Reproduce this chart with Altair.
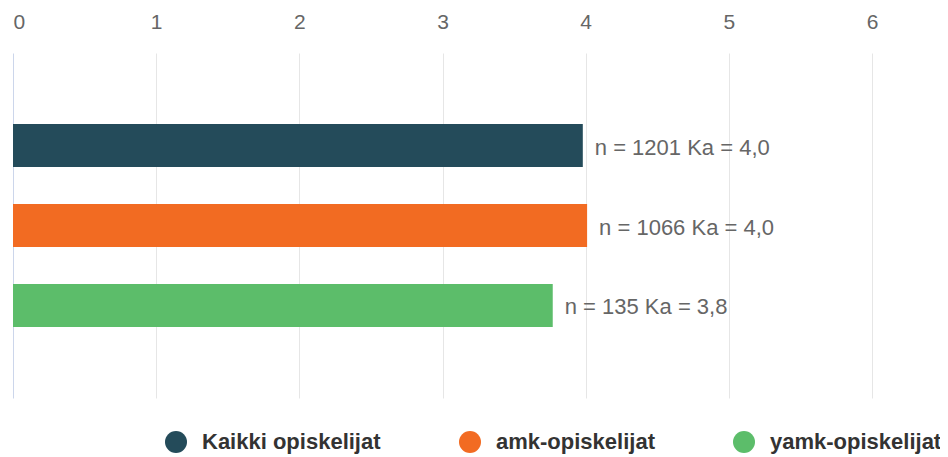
import altair as alt
import pandas as pd

groups = ["Kaikki opiskelijat", "amk-opiskelijat", "yamk-opiskelijat"]
means = [3.98, 4.01, 3.77]
counts = [1201, 1066, 135]
mean_labels = ["4,0", "4,0", "3,8"]
colors = ["#244b5a", "#f26b22", "#5cbd6a"]
x_ticks = [0, 1, 2, 3, 4, 5, 6]

df = pd.DataFrame({"group": groups, "mean": means, "n": counts, "ka": mean_labels})
df["label"] = [f"n = {n} Ka = {k}" for n, k in zip(counts, mean_labels)]

FONT = "Liberation Sans"

y_enc = alt.Y(
    "group:N",
    sort=groups,
    scale=alt.Scale(paddingInner=0.4625, paddingOuter=0.89),
    axis=None,
)

x_axis = alt.Axis(
    orient="top",
    values=x_ticks,
    format="d",
    title=None,
    domain=False,
    ticks=False,
    grid=True,
    gridColor={"condition": {"test": "datum.value === 0", "value": "#ccd6eb"}, "value": "#e6e6e6"},
    gridWidth=1,
    labelFont=FONT,
    labelFontSize=21,
    labelColor="#666666",
    labelPadding=21,
    labelAlign={"condition": {"test": "datum.value === 0", "value": "left"}, "value": "center"},
)

bars = alt.Chart(df).mark_bar().encode(
    y=y_enc,
    x=alt.X("mean:Q", scale=alt.Scale(domain=[0, 6], nice=False, zero=True), axis=x_axis),
    color=alt.Color(
        "group:N",
        scale=alt.Scale(domain=groups, range=colors),
        legend=alt.Legend(
            orient="none",
            legendX=152,
            legendY=378,
            direction="horizontal",
            title=None,
            symbolType="circle",
            symbolSize=484,
            symbolStrokeWidth=0,
            symbolOpacity=1,
            labelFont=FONT,
            labelFontSize=22,
            labelFontWeight="bold",
            labelColor="#333333",
            columnPadding=78,
            labelOffset=15,
            padding=0,
            labelLimit=400,
        ),
    ),
)

text = alt.Chart(df).mark_text(
    align="left", baseline="middle", dx=12, dy=2, font=FONT, fontSize=22, color="#666666"
).encode(
    y=y_enc,
    x=alt.X("mean:Q"),
    text="label:N",
)

chart = (
    alt.layer(bars, text)
    .properties(
        width=859,
        height=345,
        autosize=alt.AutoSizeParams(type="none"),
        padding={"left": 5, "top": 45, "right": 68, "bottom": 56},
    )
    .configure_view(stroke=None)
)

chart.save("out.html", embed_options={"renderer": "svg", "actions": False})
